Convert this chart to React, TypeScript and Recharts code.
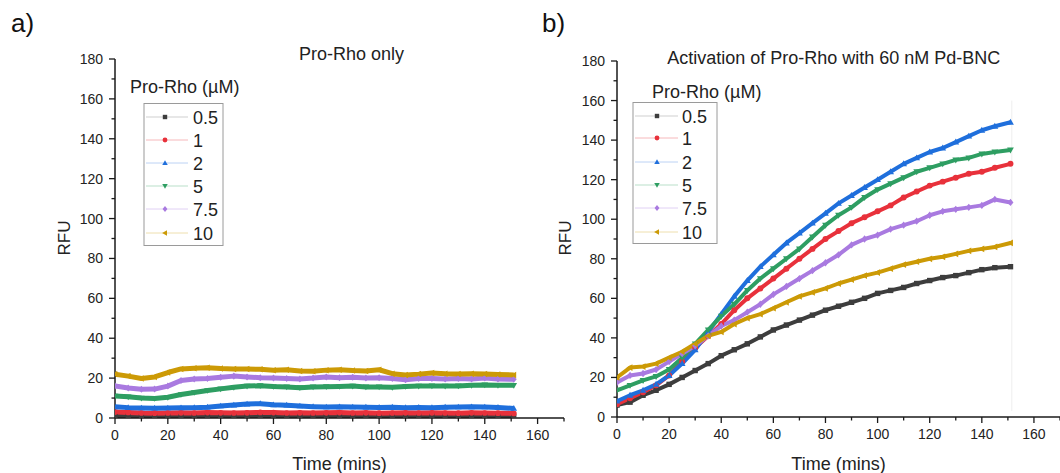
import React from 'react';
import { LineChart, Line, XAxis, YAxis, ReferenceLine } from 'recharts';

const times = [0, 5, 10, 15, 20, 25, 30, 35, 40, 45, 50, 55, 60, 65, 70, 75, 80, 85, 90, 95, 100, 105, 110, 115, 120, 125, 130, 135, 140, 145, 151];

const seriesNames = ['0.5', '1', '2', '5', '7.5', '10'];
const seriesKeys = ['s05', 's1', 's2', 's5', 's75', 's10'];
const seriesColors = ['#3d3d3d', '#e8313b', '#1f6fdc', '#2e9e62', '#a97ae0', '#cc9a06'];
const legendLineColors = ['#cfcfcf', '#f6b8bb', '#bcd2f4', '#b9dfc9', '#e0d0f4', '#eedfae'];
const markerShapes = ['square', 'circle', 'triangleUp', 'triangleDown', 'diamond', 'triangleLeft'];

// Panel a: Pro-Rho only
const a05 = [0.8, 0.9, 0.7, 0.8, 0.9, 0.8, 0.9, 1.0, 0.9, 0.8, 1.0, 0.9, 0.8, 0.9, 1.0, 0.9, 0.8, 0.9, 1.0, 0.9, 0.8, 0.9, 0.8, 0.9, 1.0, 0.9, 0.8, 0.9, 0.8, 0.9, 0.8];
const a1 = [3.0, 2.8, 2.5, 2.4, 2.5, 2.6, 2.5, 2.7, 2.6, 2.5, 2.6, 2.8, 2.7, 2.5, 2.6, 2.5, 2.6, 2.7, 2.5, 2.6, 2.4, 2.5, 2.6, 2.5, 2.6, 2.5, 2.4, 2.6, 2.5, 2.4, 2.3];
const a2 = [5.6, 5.2, 5.0, 4.9, 5.0, 5.1, 5.2, 5.4, 6.0, 6.5, 7.0, 7.2, 6.6, 6.4, 6.0, 5.7, 5.5, 5.6, 5.5, 5.4, 5.3, 5.4, 5.2, 5.3, 5.2, 5.4, 5.5, 5.6, 5.5, 5.3, 4.8];
const a5 = [11.0, 10.6, 10.0, 9.8, 10.4, 11.8, 12.8, 13.8, 14.6, 15.4, 16.0, 16.2, 15.8, 15.6, 15.2, 15.6, 15.7, 15.8, 16.0, 15.6, 15.6, 15.4, 15.8, 16.0, 16.1, 16.0, 16.1, 16.4, 16.6, 16.4, 16.4];
const a75 = [16.0, 15.0, 14.4, 14.5, 16.0, 18.8, 19.6, 19.8, 20.4, 21.0, 20.6, 20.2, 20.0, 19.8, 19.6, 20.0, 20.6, 20.2, 20.4, 20.0, 20.2, 19.8, 19.2, 19.8, 19.8, 19.6, 19.8, 19.6, 20.0, 19.6, 19.4];
const a10 = [22.0, 21.0, 19.8, 20.6, 22.8, 24.6, 25.0, 25.2, 24.8, 24.6, 24.6, 24.4, 24.0, 24.2, 23.6, 23.4, 24.0, 24.2, 23.8, 23.6, 24.2, 22.2, 21.6, 22.0, 22.6, 22.2, 22.0, 22.2, 22.0, 21.8, 21.6];

// Panel b: Activation with 60 nM Pd-BNC
const b05 = [6, 7.5, 11, 13.5, 16.5, 20, 23.5, 27, 31, 34, 37, 40.5, 44, 46.5, 49, 51.5, 54, 56, 58, 60, 62.5, 64, 65.5, 67.5, 69, 70.5, 71.5, 73, 74.5, 75.5, 76];
const b1 = [6.5, 9.5, 12.5, 16, 21, 28, 35, 41, 47, 54, 60, 65, 70, 75, 80, 85, 90, 94, 98, 101, 104, 107, 111, 114, 117, 119, 121, 123, 124, 126, 128];
const b2 = [8, 11, 13.5, 16.5, 21, 27, 34, 43, 52, 61, 69, 76, 82, 88, 93, 98, 103, 108, 112, 116, 120, 124, 128, 131, 134, 136, 139, 142, 145, 147, 149];
const b5 = [13.5, 16, 18.5, 20.5, 24, 30, 37, 44, 51, 57, 64, 70, 75, 80, 85, 91, 97, 102, 106, 111, 115, 118, 121, 124, 126, 128, 130, 131, 133, 134, 135];
const b75 = [17.5, 21, 22, 24, 28, 32, 36, 41, 46, 49, 53, 57, 62, 66, 70, 74, 78, 82, 87, 90, 92, 95, 97, 99, 102, 104, 105, 106, 107, 110, 108.5];
const b10 = [20, 25, 25.5, 27, 30, 33, 37, 41, 43, 47, 50, 52, 55, 58, 61, 63, 65, 67.5, 69.5, 71.5, 73, 75, 77, 78.5, 80, 81, 82.5, 84, 85, 86, 88];

const xTicks = [0, 10, 20, 30, 40, 50, 60, 70, 80, 90, 100, 110, 120, 130, 140, 150, 160, 170];
const yTicks = [0, 10, 20, 30, 40, 50, 60, 70, 80, 90, 100, 110, 120, 130, 140, 150, 160, 170, 180];
const xLabelMax = 160;

const FONT = '"Liberation Sans", Arial, Helvetica, sans-serif';

function buildRows(cols: number[][]) {
  return times.map((t, i) => {
    const row: Record<string, number> = { t };
    seriesKeys.forEach((k, j) => {
      row[k] = cols[j][i];
    });
    return row;
  });
}

const rowsA = buildRows([a05, a1, a2, a5, a75, a10]);
const rowsB = buildRows([b05, b1, b2, b5, b75, b10]);

function Marker({ shape, cx, cy, s, fill }: { shape: string; cx: number; cy: number; s: number; fill: string }) {
  switch (shape) {
    case 'square':
      return <rect x={cx - s} y={cy - s} width={2 * s} height={2 * s} fill={fill} />;
    case 'circle':
      return <circle cx={cx} cy={cy} r={s * 1.1} fill={fill} />;
    case 'triangleUp':
      return <polygon points={`${cx},${cy - s * 1.3} ${cx - s * 1.25},${cy + s * 0.9} ${cx + s * 1.25},${cy + s * 0.9}`} fill={fill} />;
    case 'triangleDown':
      return <polygon points={`${cx},${cy + s * 1.3} ${cx - s * 1.25},${cy - s * 0.9} ${cx + s * 1.25},${cy - s * 0.9}`} fill={fill} />;
    case 'diamond':
      return <polygon points={`${cx},${cy - s * 1.35} ${cx + s * 1.1},${cy} ${cx},${cy + s * 1.35} ${cx - s * 1.1},${cy}`} fill={fill} />;
    case 'triangleLeft':
    default:
      return <polygon points={`${cx - s * 1.3},${cy} ${cx + s * 0.9},${cy - s * 1.25} ${cx + s * 0.9},${cy + s * 1.25}`} fill={fill} />;
  }
}

const XTick = (props: any) => {
  const { x, y, payload } = props;
  const v = payload.value as number;
  const major = v % 20 === 0;
  return (
    <g>
      <line x1={x} x2={x} y1={y} y2={y + (major ? 6 : 3.5)} stroke="#1a1a1a" strokeWidth={1.3} />
      {major && v <= xLabelMax && (
        <text x={x} y={y + 22} textAnchor="middle" fontSize={14} fill="#222" fontFamily={FONT}>
          {v}
        </text>
      )}
    </g>
  );
};

const YTick = (props: any) => {
  const { x, y, payload } = props;
  const v = payload.value as number;
  const major = v % 20 === 0;
  return (
    <g>
      <line x1={x - (major ? 6 : 3.5)} x2={x} y1={y} y2={y} stroke="#1a1a1a" strokeWidth={1.3} />
      {major && (
        <text x={x - 12} y={y + 5} textAnchor="end" fontSize={14} fill="#222" fontFamily={FONT}>
          {v}
        </text>
      )}
    </g>
  );
};

function Panel({ rows, width, yAxisWidth, margin, lineWidth, markerSize, faintLine }: any) {
  return (
    <LineChart width={width} height={473} data={rows} margin={margin}>
      <XAxis
        dataKey="t"
        type="number"
        domain={[0, 170]}
        ticks={xTicks}
        interval={0}
        tickSize={0}
        tickMargin={0}
        tickLine={false}
        tick={<XTick />}
        height={30}
        axisLine={{ stroke: '#1a1a1a', strokeWidth: 1.5 }}
        allowDataOverflow
      />
      <YAxis
        type="number"
        domain={[0, 180]}
        ticks={yTicks}
        interval={0}
        tickSize={0}
        tickMargin={0}
        tickLine={false}
        tick={<YTick />}
        width={yAxisWidth}
        axisLine={{ stroke: '#1a1a1a', strokeWidth: 1.5 }}
        allowDataOverflow
      />
      {faintLine && (
        <ReferenceLine
          segment={[{ x: 151.5, y: 3 }, { x: 151.5, y: 160 }]}
          stroke="#eeeeee"
          strokeWidth={1}
        />
      )}
      {seriesKeys.map((k, i) => (
        <Line
          key={k}
          dataKey={k}
          type="linear"
          stroke={seriesColors[i]}
          strokeWidth={lineWidth}
          strokeLinejoin="round"
          isAnimationActive={false}
          dot={(p: any) => (
            <Marker key={`${k}-${p.index}`} shape={markerShapes[i]} cx={p.cx} cy={p.cy} s={markerSize} fill={seriesColors[i]} />
          )}
          activeDot={false}
        />
      ))}
    </LineChart>
  );
}

function LegendBlock({ titleX, titleY, boxX, boxY, boxW, boxH, rowY, lineX1, lineX2, markerX, labelX }: any) {
  return (
    <g>
      <text x={titleX} y={titleY} fontSize={18} fill="#222" fontFamily={FONT}>
        Pro-Rho (µM)
      </text>
      <rect x={boxX} y={boxY} width={boxW} height={boxH} fill="#fff" stroke="#9a9a9a" strokeWidth={1} />
      {seriesNames.map((n, i) => {
        const cy = rowY[i];
        return (
          <g key={n}>
            <line x1={lineX1} x2={lineX2} y1={cy} y2={cy} stroke={legendLineColors[i]} strokeWidth={1} />
            <Marker shape={markerShapes[i]} cx={markerX} cy={cy} s={2.2} fill={seriesColors[i]} />
            <text x={labelX} y={cy + 6.5} fontSize={18} fill="#222" fontFamily={FONT}>
              {n}
            </text>
          </g>
        );
      })}
    </g>
  );
}

export default function App() {
  return (
    <div style={{ position: 'absolute', left: 0, top: 0, width: 1060, height: 473, background: '#fff', overflow: 'hidden' }}>
      <div style={{ position: 'absolute', left: 0, top: 0 }}>
        <Panel
          rows={rowsA}
          width={580}
          yAxisWidth={115}
          margin={{ top: 59, right: 16, bottom: 25, left: 0 }}
          lineWidth={5}
          markerSize={2.6}
          faintLine={false}
        />
      </div>
      <div style={{ position: 'absolute', left: 500, top: 0 }}>
        <Panel
          rows={rowsB}
          width={560}
          yAxisWidth={117}
          margin={{ top: 61, right: 0, bottom: 26, left: 0 }}
          lineWidth={4}
          markerSize={2.7}
          faintLine={true}
        />
      </div>
      <svg width={1060} height={473} style={{ position: 'absolute', left: 0, top: 0, pointerEvents: 'none' }}>
        <text x={11} y={32} fontSize={26} fill="#111" fontFamily={FONT}>a)</text>
        <text x={542} y={32} fontSize={26} fill="#111" fontFamily={FONT}>b)</text>
        <text x={351.6} y={59.5} fontSize={18} textAnchor="middle" fill="#222" fontFamily={FONT}>Pro-Rho only</text>
        <text x={833.7} y={63.5} fontSize={18} textAnchor="middle" fill="#222" fontFamily={FONT}>Activation of Pro-Rho with 60 nM Pd-BNC</text>
        <text x={339.5} y={469.5} fontSize={18} textAnchor="middle" fill="#222" fontFamily={FONT}>Time (mins)</text>
        <text x={838.5} y={469.5} fontSize={18} textAnchor="middle" fill="#222" fontFamily={FONT}>Time (mins)</text>
        <text x={70} y={238} fontSize={17} textAnchor="middle" fill="#222" fontFamily={FONT} transform="rotate(-90 70 238)">RFU</text>
        <text x={571} y={238} fontSize={17} textAnchor="middle" fill="#222" fontFamily={FONT} transform="rotate(-90 571 238)">RFU</text>
        <LegendBlock
          titleX={130}
          titleY={93}
          boxX={144}
          boxY={103.5}
          boxW={79}
          boxH={142}
          rowY={[117, 140, 163, 186, 209, 233]}
          lineX1={146}
          lineX2={188}
          markerX={165}
          labelX={193}
        />
        <LegendBlock
          titleX={652}
          titleY={98}
          boxX={633}
          boxY={102.5}
          boxW={84}
          boxH={141}
          rowY={[116, 138, 162, 185, 208, 232]}
          lineX1={635}
          lineX2={678}
          markerX={657}
          labelX={682}
        />
      </svg>
    </div>
  );
}
